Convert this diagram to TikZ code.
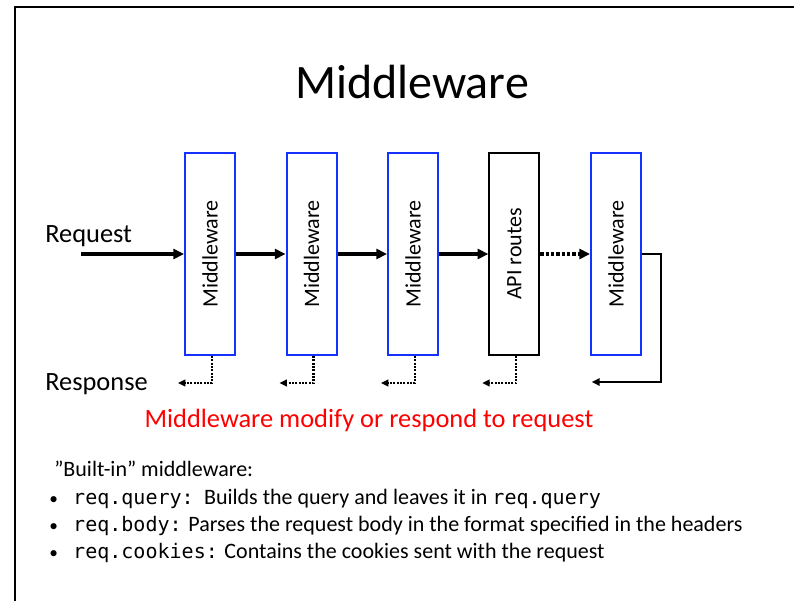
\documentclass[tikz,border=0pt]{standalone}
\usepackage{fontspec}
\setmainfont{Carlito}
\newfontfamily\codefont{DejaVu Sans Mono}[Scale=0.91]
\usetikzlibrary{arrows.meta}
\definecolor{boxblue}{RGB}{20,50,255}
\definecolor{txtred}{RGB}{255,0,0}
\tikzset{
  mwbox/.style={draw=boxblue, line width=1.5pt, minimum width=37.5pt, minimum height=151.5pt, inner sep=0pt, font=\fontsize{16.5}{18}\selectfont},
  apibox/.style={mwbox, draw=black},
  flow/.style={line width=2.6pt, -{Triangle[length=8pt,width=7.5pt]}},
  dotflow/.style={flow, dash pattern=on 2.4pt off 1.6pt},
  backflow/.style={line width=1.6pt, dash pattern=on 1.5pt off 1pt, -{Triangle[length=5.5pt,width=5pt]}},
  retflow/.style={line width=1.6pt, -{Triangle[length=6pt,width=5.5pt]}},
  bigtxt/.style={font=\fontsize{19.8}{22}\selectfont, inner sep=0pt},
  smalltxt/.style={font=\fontsize{16.5}{19}\selectfont, inner sep=0pt, anchor=base west},
}
\newcommand{\bul}{{\fontsize{13}{15}\selectfont •}\hspace{11.5pt}}
\begin{document}
\begin{tikzpicture}[x=0.75pt,y=-0.75pt]
\useasboundingbox (0,0) rectangle (794,601);
\fill[white] (0,0) rectangle (794,601);
% frame
\draw[line width=1.6pt] (15,601) -- (15,7) -- (794,7);
% title
\node[font=\fontsize{36}{40}\selectfont, inner sep=0pt, anchor=base] (title) at (412,98) {Middleware};
% boxes
\node[mwbox] (m1) at (210,254) {\rotatebox{90}{Middleware}};
\node[mwbox] (m2) at (311.5,254) {\rotatebox{90}{Middleware}};
\node[mwbox] (m3) at (413,254) {\rotatebox{90}{Middleware}};
\node[apibox] (api) at (514.3,254) {\rotatebox{90}{API routes}};
\node[mwbox] (m5) at (616,254) {\rotatebox{90}{Middleware}};
% labels
\node[bigtxt, anchor=base west] (req) at (45,242) {Request};
\node[bigtxt, anchor=base west] (resp) at (45,390) {Response};
\coordinate (reqstart) at (81,254);
% forward arrows
\draw[flow] (reqstart) -- (m1.west);
\draw[flow] (m1.east) -- (m2.west);
\draw[flow] (m2.east) -- (m3.west);
\draw[flow] (m3.east) -- (api.west);
\draw[dotflow] (api.east) -- (m5.west);
% return
\coordinate (ret5) at (591.7,382);
\draw[retflow] (m5.east) -- (660.7,254) |- (ret5);
% dotted responses
\foreach \n in {m1,m2,m3,api}{
  \draw[backflow] ([xshift=1.5]\n.south) -- ++(0,27) -- ++(-34,0);
}
% red caption
\node[bigtxt, text=txtred, anchor=base] (cap) at (369,427) {Middleware modify or respond to request};
% bottom text
\node[smalltxt] (b0) at (54,476) {”Built-in” middleware:};
\node[smalltxt] (b1) at (49,504) {\bul{\codefont req.query:} \,Builds the query and leaves it in {\codefont req.query}};
\node[smalltxt] (b2) at (49,531) {\bul{\codefont req.body:} Parses the request body in the format specified in the headers};
\node[smalltxt] (b3) at (49,558) {\bul{\codefont req.cookies:} Contains the cookies sent with the request};
\end{tikzpicture}
\end{document}
